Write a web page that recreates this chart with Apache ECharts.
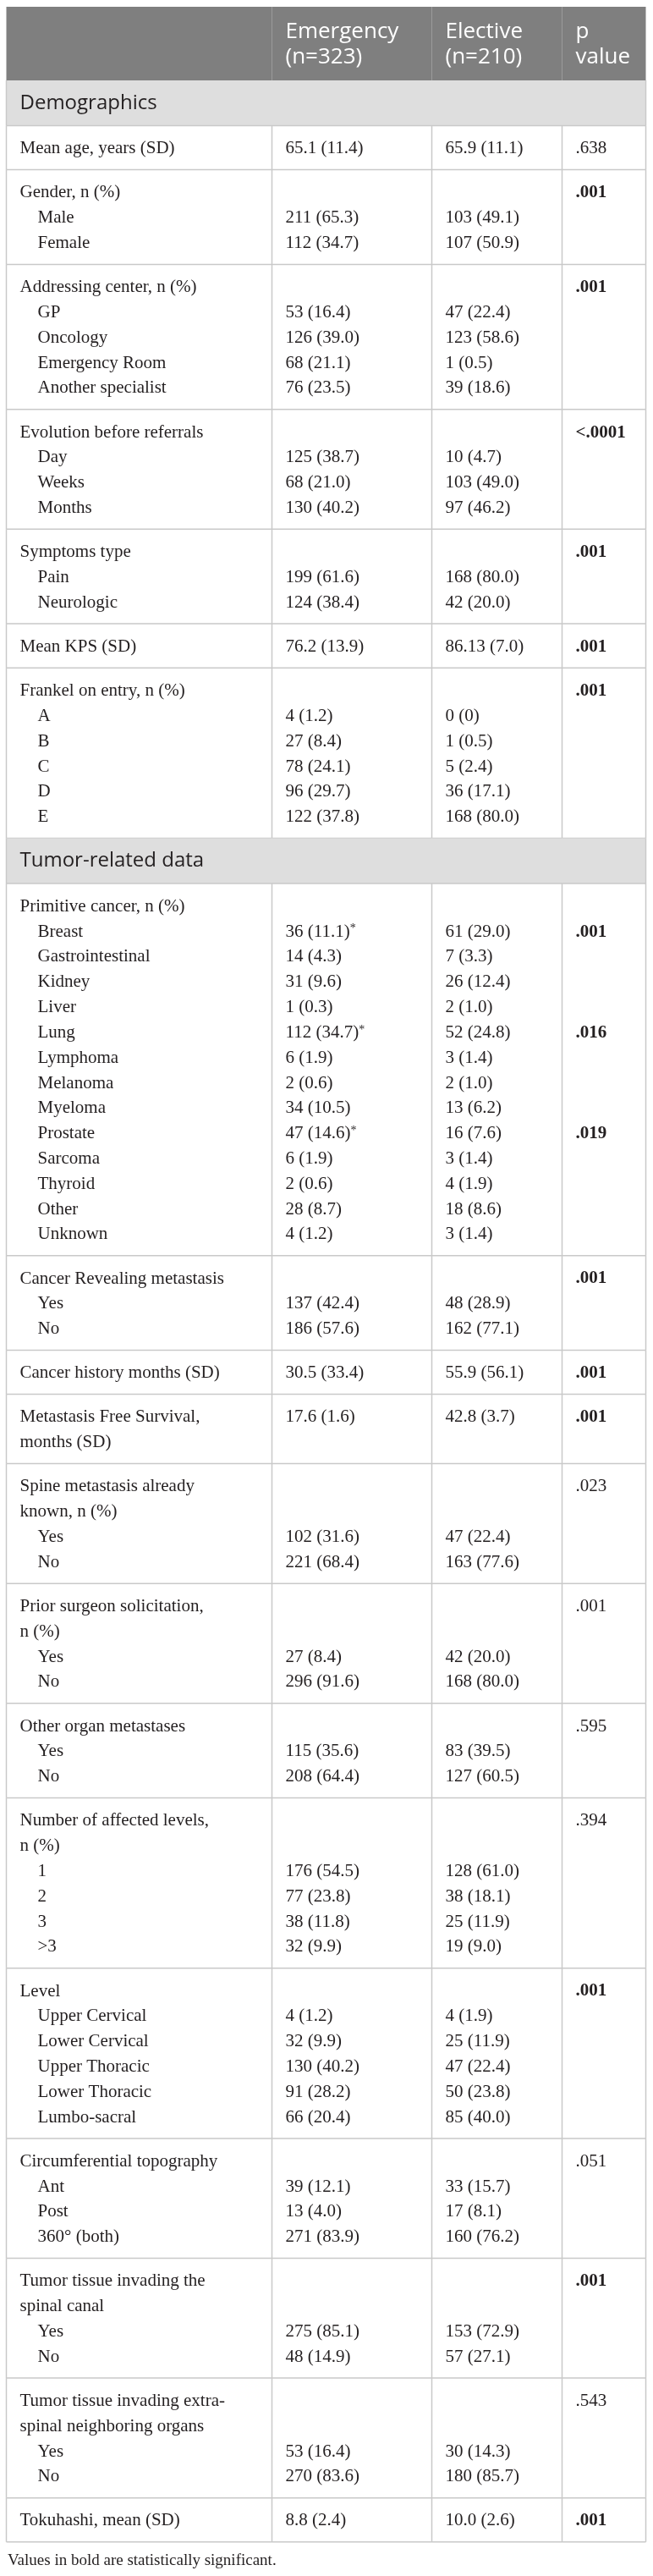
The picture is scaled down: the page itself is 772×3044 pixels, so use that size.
<!DOCTYPE html>
<html>
<head>
<meta charset="utf-8">
<script src="https://cdn.jsdelivr.net/npm/echarts@6/dist/echarts.min.js"></script>
<style>
  html, body { margin: 0; padding: 0; background: #fff; }
  #table { width: 772px; height: 3044px; }
</style>
</head>
<body>
<div id="table"></div>
<script>
// Column headings and section bands
var headings = [['Emergency', '(n=323)'], ['Elective', '(n=210)'], ['p', 'value']];
var sectionNames = ['Demographics', 'Tumor-related data'];
var footnote = 'Values in bold are statistically significant.';

// Demographics
var meanAge = { title: ['Mean age, years (SD)'], labels: [], emergency: ['65.1 (11.4)'], elective: ['65.9 (11.1)'], p: '.638', bold: false };
var gender = { title: ['Gender, n (%)'], labels: ['Male', 'Female'],
  emergency: ['211 (65.3)', '112 (34.7)'], elective: ['103 (49.1)', '107 (50.9)'], p: '.001', bold: true };
var addressing = { title: ['Addressing center, n (%)'], labels: ['GP', 'Oncology', 'Emergency Room', 'Another specialist'],
  emergency: ['53 (16.4)', '126 (39.0)', '68 (21.1)', '76 (23.5)'], elective: ['47 (22.4)', '123 (58.6)', '1 (0.5)', '39 (18.6)'], p: '.001', bold: true };
var evolution = { title: ['Evolution before referrals'], labels: ['Day', 'Weeks', 'Months'],
  emergency: ['125 (38.7)', '68 (21.0)', '130 (40.2)'], elective: ['10 (4.7)', '103 (49.0)', '97 (46.2)'], p: '<.0001', bold: true };
var symptoms = { title: ['Symptoms type'], labels: ['Pain', 'Neurologic'],
  emergency: ['199 (61.6)', '124 (38.4)'], elective: ['168 (80.0)', '42 (20.0)'], p: '.001', bold: true };
var meanKps = { title: ['Mean KPS (SD)'], labels: [], emergency: ['76.2 (13.9)'], elective: ['86.13 (7.0)'], p: '.001', bold: true };
var frankel = { title: ['Frankel on entry, n (%)'], labels: ['A', 'B', 'C', 'D', 'E'],
  emergency: ['4 (1.2)', '27 (8.4)', '78 (24.1)', '96 (29.7)', '122 (37.8)'], elective: ['0 (0)', '1 (0.5)', '5 (2.4)', '36 (17.1)', '168 (80.0)'], p: '.001', bold: true };

// Tumor-related data
var primitive = { title: ['Primitive cancer, n (%)'],
  labels: ['Breast', 'Gastrointestinal', 'Kidney', 'Liver', 'Lung', 'Lymphoma', 'Melanoma', 'Myeloma', 'Prostate', 'Sarcoma', 'Thyroid', 'Other', 'Unknown'],
  emergency: ['36 (11.1)*', '14 (4.3)', '31 (9.6)', '1 (0.3)', '112 (34.7)*', '6 (1.9)', '2 (0.6)', '34 (10.5)', '47 (14.6)*', '6 (1.9)', '2 (0.6)', '28 (8.7)', '4 (1.2)'],
  elective: ['61 (29.0)', '7 (3.3)', '26 (12.4)', '2 (1.0)', '52 (24.8)', '3 (1.4)', '2 (1.0)', '13 (6.2)', '16 (7.6)', '3 (1.4)', '4 (1.9)', '18 (8.6)', '3 (1.4)'],
  p: ['.001', '', '', '', '.016', '', '', '', '.019', '', '', '', ''], bold: true };
var revealing = { title: ['Cancer Revealing metastasis'], labels: ['Yes', 'No'],
  emergency: ['137 (42.4)', '186 (57.6)'], elective: ['48 (28.9)', '162 (77.1)'], p: '.001', bold: true };
var cancerHistory = { title: ['Cancer history months (SD)'], labels: [], emergency: ['30.5 (33.4)'], elective: ['55.9 (56.1)'], p: '.001', bold: true };
var mfs = { title: ['Metastasis Free Survival,', 'months (SD)'], labels: [], emergency: ['17.6 (1.6)'], elective: ['42.8 (3.7)'], p: '.001', bold: true };
var spineKnown = { title: ['Spine metastasis already', 'known, n (%)'], labels: ['Yes', 'No'],
  emergency: ['102 (31.6)', '221 (68.4)'], elective: ['47 (22.4)', '163 (77.6)'], p: '.023', bold: false };
var priorSurgeon = { title: ['Prior surgeon solicitation,', 'n (%)'], labels: ['Yes', 'No'],
  emergency: ['27 (8.4)', '296 (91.6)'], elective: ['42 (20.0)', '168 (80.0)'], p: '.001', bold: false };
var otherOrgan = { title: ['Other organ metastases'], labels: ['Yes', 'No'],
  emergency: ['115 (35.6)', '208 (64.4)'], elective: ['83 (39.5)', '127 (60.5)'], p: '.595', bold: false };
var affectedLevels = { title: ['Number of affected levels,', 'n (%)'], labels: ['1', '2', '3', '>3'],
  emergency: ['176 (54.5)', '77 (23.8)', '38 (11.8)', '32 (9.9)'], elective: ['128 (61.0)', '38 (18.1)', '25 (11.9)', '19 (9.0)'], p: '.394', bold: false };
var spineLevel = { title: ['Level'], labels: ['Upper Cervical', 'Lower Cervical', 'Upper Thoracic', 'Lower Thoracic', 'Lumbo-sacral'],
  emergency: ['4 (1.2)', '32 (9.9)', '130 (40.2)', '91 (28.2)', '66 (20.4)'], elective: ['4 (1.9)', '25 (11.9)', '47 (22.4)', '50 (23.8)', '85 (40.0)'], p: '.001', bold: true };
var circumferential = { title: ['Circumferential topography'], labels: ['Ant', 'Post', '360\u00b0 (both)'],
  emergency: ['39 (12.1)', '13 (4.0)', '271 (83.9)'], elective: ['33 (15.7)', '17 (8.1)', '160 (76.2)'], p: '.051', bold: false };
var canal = { title: ['Tumor tissue invading the', 'spinal canal'], labels: ['Yes', 'No'],
  emergency: ['275 (85.1)', '48 (14.9)'], elective: ['153 (72.9)', '57 (27.1)'], p: '.001', bold: true };
var extraSpinal = { title: ['Tumor tissue invading extra-', 'spinal neighboring organs'], labels: ['Yes', 'No'],
  emergency: ['53 (16.4)', '270 (83.6)'], elective: ['30 (14.3)', '180 (85.7)'], p: '.543', bold: false };
var tokuhashi = { title: ['Tokuhashi, mean (SD)'], labels: [], emergency: ['8.8 (2.4)'], elective: ['10.0 (2.6)'], p: '.001', bold: true };

var demographics = [meanAge, gender, addressing, evolution, symptoms, meanKps, frankel];
var tumorData = [primitive, revealing, cancerHistory, mfs, spineKnown, priorSurgeon, otherOrgan, affectedLevels, spineLevel, circumferential, canal, extraSpinal, tokuhashi];

// Layout
var COLS = [7.5, 321.5, 510.5, 664.5, 763.5];
var PAD_X = 16, INDENT = 21, LINE = 29.82, PAD_Y = 22.3, FIRST = 27.3;
var HEAD_H = 87, BAND_H = 53.5;
var SERIF = '"Liberation Serif", "Times New Roman", serif';
var SANS = '"Open Sans", "Noto Sans", sans-serif';
var INK = '#231f20';
var RULE = '#c9c9c9';

var rows = [];
var cursor = 8;
rows.push({ kind: 'header', y0: cursor, y1: cursor + HEAD_H });
cursor += HEAD_H;
[demographics, tumorData].forEach(function (blocks, s) {
  rows.push({ kind: 'section', text: sectionNames[s], y0: cursor, y1: cursor + BAND_H });
  cursor += BAND_H;
  blocks.forEach(function (b) {
    var h = PAD_Y + (b.title.length + b.labels.length) * LINE;
    rows.push({ kind: 'block', block: b, y0: cursor, y1: cursor + h });
    cursor += h;
  });
});
rows.push({ kind: 'note', y0: cursor, y1: cursor + 40 });

function txt(pt, text, font, color, rich) {
  var style = {
    x: pt[0], y: pt[1], text: text, fill: color, font: font,
    textAlign: 'left', textVerticalAlign: 'middle'
  };
  if (rich) style.rich = rich;
  return { type: 'text', style: style };
}

function line(a, b, color, w) {
  return { type: 'line', shape: { x1: a[0], y1: a[1], x2: b[0], y2: b[1] }, style: { stroke: color, lineWidth: w } };
}

var supRich = { sup: { font: '14px ' + SERIF, fill: INK, verticalAlign: 'top', padding: [0, 0, 6, 0] } };

function valueText(s) {
  return s.indexOf('*') >= 0 ? s.replace('*', '{sup|*}') : s;
}

function renderItem(params, api) {
  var r = rows[api.value(0)];
  var c = function (x, y) { return api.coord([x, y]); };
  var kids = [];
  var bodyFont = '21px ' + SERIF;
  var boldFont = 'bold 21px ' + SERIF;

  if (r.kind === 'header') {
    var a = c(COLS[0], r.y0), b = c(COLS[4], r.y1);
    kids.push({ type: 'rect', shape: { x: a[0], y: a[1], width: b[0] - a[0], height: b[1] - a[1] }, style: { fill: '#7f7f7f' } });
    for (var i = 1; i <= 3; i++) kids.push(line(c(COLS[i], r.y0), c(COLS[i], r.y1), '#9b9b9b', 1));
    headings.forEach(function (h, k) {
      h.forEach(function (t, j) {
        kids.push(txt(c(COLS[k + 1] + PAD_X, r.y0 + 30 + j * 30), t, '26px ' + SANS, '#ffffff'));
      });
    });
  } else if (r.kind === 'section') {
    var a2 = c(COLS[0], r.y0), b2 = c(COLS[4], r.y1);
    kids.push({ type: 'rect', shape: { x: a2[0], y: a2[1], width: b2[0] - a2[0], height: b2[1] - a2[1] }, style: { fill: '#dedede' } });
    kids.push(line(c(COLS[0], r.y1), c(COLS[4], r.y1), RULE, 1.5));
    kids.push(line(c(COLS[0], r.y0), c(COLS[0], r.y1), RULE, 1.5));
    kids.push(line(c(COLS[4], r.y0), c(COLS[4], r.y1), RULE, 1.5));
    kids.push(txt(c(COLS[0] + PAD_X, r.y0 + 27), r.text, '24px ' + SANS, INK));
  } else if (r.kind === 'block') {
    var bl = r.block;
    for (var k = 0; k <= 4; k++) kids.push(line(c(COLS[k], r.y0), c(COLS[k], r.y1), RULE, 1.5));
    kids.push(line(c(COLS[0], r.y1), c(COLS[4], r.y1), RULE, 1.5));
    var lineY = function (n) { return r.y0 + FIRST + n * LINE; };
    bl.title.forEach(function (t, j) {
      kids.push(txt(c(COLS[0] + PAD_X, lineY(j)), t, bodyFont, INK));
    });
    var start = bl.labels.length ? bl.title.length : 0;
    bl.labels.forEach(function (t, j) {
      kids.push(txt(c(COLS[0] + PAD_X + INDENT, lineY(start + j)), t, bodyFont, INK));
    });
    bl.emergency.forEach(function (t, j) {
      kids.push(txt(c(COLS[1] + PAD_X, lineY(start + j)), valueText(t), bodyFont, INK, supRich));
    });
    bl.elective.forEach(function (t, j) {
      kids.push(txt(c(COLS[2] + PAD_X, lineY(start + j)), t, bodyFont, INK));
    });
    var pf = bl.bold ? boldFont : bodyFont;
    if (Array.isArray(bl.p)) {
      bl.p.forEach(function (t, j) {
        if (t) kids.push(txt(c(COLS[3] + PAD_X, lineY(start + j)), t, pf, INK));
      });
    } else {
      kids.push(txt(c(COLS[3] + PAD_X, lineY(0)), bl.p, pf, INK));
    }
  } else {
    kids.push(txt(c(9, r.y0 + 22), footnote, '19px ' + SERIF, INK));
  }
  return { type: 'group', children: kids };
}

var chart = echarts.init(document.getElementById('table'));
chart.setOption({
  animation: false,
  backgroundColor: '#ffffff',
  grid: { left: 0, right: 0, top: 0, bottom: 0 },
  xAxis: { type: 'value', min: 0, max: 772, show: false },
  yAxis: { type: 'value', min: 0, max: 3044, inverse: true, show: false },
  series: [{
    type: 'custom',
    renderItem: renderItem,
    silent: true,
    data: rows.map(function (r, i) { return [i, i]; })
  }]
});
</script>
</body>
</html>
